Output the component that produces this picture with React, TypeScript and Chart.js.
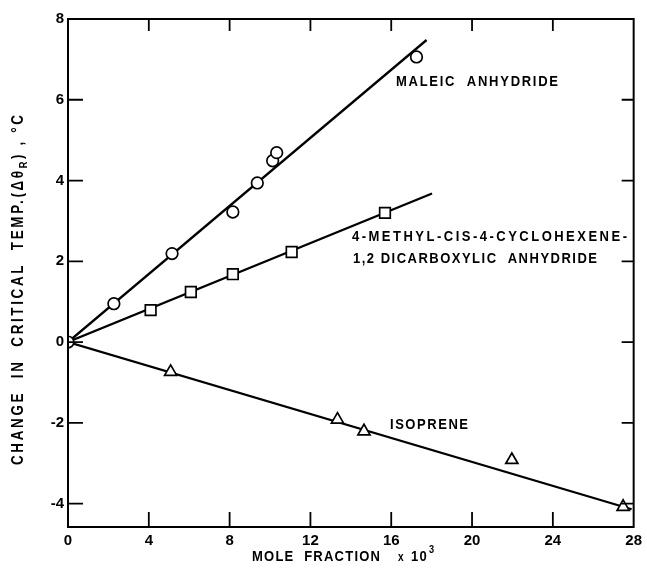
import { useEffect, useRef } from "react";
import { Chart, registerables } from "chart.js";

Chart.register(...registerables);

// ---- data ----
const maleicX = [0, 2.27, 5.15, 8.16, 9.37, 10.13, 10.33, 17.25];
const maleicY = [0, 0.95, 2.19, 3.22, 3.94, 4.49, 4.69, 7.06];
const methylX = [4.09, 6.08, 8.16, 11.07, 15.69];
const methylY = [0.79, 1.24, 1.68, 2.23, 3.2];
const isopreneX = [5.08, 13.34, 14.65, 21.97, 27.48];
const isopreneY = [-0.74, -1.92, -2.21, -2.92, -4.08];

// fitted straight lines (end points)
const maleicFitX = [0, 17.75];
const maleicFitY = [0, 7.48];
const methylFitX = [0, 18.02];
const methylFitY = [0, 3.68];
const isopreneFitX = [0, 27.9];
const isopreneFitY = [0, -4.14];

const xTicks = [0, 4, 8, 12, 16, 20, 24, 28];
const yTicks = [-4, -2, 0, 2, 4, 6, 8];

const labelMaleic = "MALEIC  ANHYDRIDE";
const labelMethyl1 = "4-METHYL-CIS-4-CYCLOHEXENE-";
const labelMethyl2 = "1,2 DICARBOXYLIC  ANHYDRIDE";
const labelIsoprene = "ISOPRENE";
const xTitle = "MOLE  FRACTION";
const yTitleA = "CHANGE  IN  CRITICAL  TEMP.(Δθ";
const yTitleSub = "R";
const yTitleB = ") , °C";

const FONT = '"Liberation Sans", Arial, sans-serif';
const SQ = 0.84; // horizontal squeeze to mimic lettering-guide text

const pts = (xs: number[], ys: number[]) => xs.map((x, i) => ({ x, y: ys[i] }));

function condensed(ctx: CanvasRenderingContext2D, text: string, x: number, y: number, width: number, size: number) {
  ctx.save();
  ctx.font = `bold ${size}px ${FONT}`;
  (ctx as any).letterSpacing = "0px";
  const w = ctx.measureText(text).width;
  const n = Array.from(text).length;
  const ls = n > 1 ? (width / SQ - w) / (n - 1) : 0;
  ctx.translate(x, y);
  ctx.scale(SQ, 1);
  (ctx as any).letterSpacing = ls + "px";
  ctx.textAlign = "left";
  ctx.fillText(text, 0, 0);
  ctx.restore();
}

function plain(ctx: CanvasRenderingContext2D, text: string, x: number, y: number, size: number, ls = 0) {
  ctx.save();
  ctx.font = `bold ${size}px ${FONT}`;
  ctx.translate(x, y);
  ctx.scale(SQ, 1);
  (ctx as any).letterSpacing = ls + "px";
  ctx.textAlign = "left";
  ctx.fillText(text, 0, 0);
  ctx.restore();
}

const framePlugin = {
  id: "frame",
  afterDraw(chart: any) {
    const { ctx, chartArea: a, scales } = chart;
    const xs = scales.x;
    const ys = scales.y;
    ctx.save();
    ctx.strokeStyle = "#000";
    ctx.fillStyle = "#000";
    ctx.lineWidth = 2;
    ctx.strokeRect(a.left, a.top, a.right - a.left, a.bottom - a.top);
    ctx.lineWidth = 1.8;
    ctx.beginPath();
    for (const v of yTicks) {
      const p = ys.getPixelForValue(v);
      ctx.moveTo(a.left, p);
      ctx.lineTo(a.left + 15, p);
      ctx.moveTo(a.right, p);
      ctx.lineTo(a.right - 12, p);
    }
    for (const v of xTicks) {
      if (v === 0 || v === 28) continue;
      const p = xs.getPixelForValue(v);
      ctx.moveTo(p, a.top);
      ctx.lineTo(p, a.top + 12);
      ctx.moveTo(p, a.bottom);
      ctx.lineTo(p, a.bottom - 15);
    }
    ctx.stroke();

    // annotations
    ctx.textBaseline = "middle";
    condensed(ctx, labelMaleic, 396, 82, 162, 15.5);
    condensed(ctx, labelMethyl1, 352, 237, 275, 15.5);
    condensed(ctx, labelMethyl2, 353, 259, 244, 15.5);
    condensed(ctx, labelIsoprene, 390, 425, 78, 15.5);

    // x title
    ctx.textBaseline = "alphabetic";
    condensed(ctx, xTitle, 252, 561, 128, 15.5);
    plain(ctx, "x", 398, 561, 12);
    plain(ctx, "10", 411, 561, 15.5, 1.5);
    plain(ctx, "3", 429, 553, 11);

    // y title (rotated)
    ctx.translate(23, 290);
    ctx.rotate(-Math.PI / 2);
    ctx.scale(SQ, 1);
    ctx.textAlign = "left";
    const big = `bold 16px ${FONT}`;
    const small = `bold 11px ${FONT}`;
    (ctx as any).letterSpacing = "0px";
    ctx.font = big;
    const wA = ctx.measureText(yTitleA).width;
    const wB = ctx.measureText(yTitleB).width;
    ctx.font = small;
    const wR = ctx.measureText(yTitleSub).width;
    const nTot = Array.from(yTitleA + yTitleSub + yTitleB).length;
    const L = 350 / SQ;
    const ls = (L - wA - wB - wR) / (nTot - 1);
    (ctx as any).letterSpacing = ls + "px";
    let cx = -L / 2;
    ctx.font = big;
    ctx.fillText(yTitleA, cx, 0);
    cx += wA + Array.from(yTitleA).length * ls;
    ctx.font = small;
    ctx.fillText(yTitleSub, cx, 4);
    cx += wR + ls;
    ctx.font = big;
    ctx.fillText(yTitleB, cx, 0);
    ctx.restore();
  },
};

export default function App() {
  const ref = useRef<HTMLCanvasElement>(null);
  useEffect(() => {
    if (!ref.current) return;
    const pointStyleCommon = {
      backgroundColor: "#fff",
      borderColor: "#000",
      borderWidth: 1.7,
      showLine: false,
      order: 1,
    };
    const lineCommon = {
      borderColor: "#000",
      borderWidth: 2.3,
      pointRadius: 0,
      showLine: true,
      fill: false,
      order: 2,
    };
    const tickFont = { family: FONT, size: 15, weight: "bold" as const };
    const chart = new Chart(ref.current, {
      type: "scatter",
      data: {
        datasets: [
          { label: "Maleic fit", data: pts(maleicFitX, maleicFitY), ...lineCommon } as any,
          { label: "Methyl fit", data: pts(methylFitX, methylFitY), ...lineCommon } as any,
          { label: "Isoprene fit", data: pts(isopreneFitX, isopreneFitY), ...lineCommon } as any,
          { label: "Maleic anhydride", data: pts(maleicX, maleicY), pointStyle: "circle", pointRadius: 5.8, ...pointStyleCommon } as any,
          { label: "4-Methyl-cis-4-cyclohexene-1,2 dicarboxylic anhydride", data: pts(methylX, methylY), pointStyle: "rect", pointRadius: 7.5, ...pointStyleCommon } as any,
          { label: "Isoprene", data: pts(isopreneX, isopreneY), pointStyle: "triangle", pointRadius: 7, ...pointStyleCommon } as any,
        ],
      },
      options: {
        animation: false,
        responsive: false,
        layout: { padding: { top: 19, right: 11, left: 0, bottom: 0 } },
        plugins: { legend: { display: false }, tooltip: { enabled: false } },
        scales: {
          x: {
            type: "linear",
            min: 0,
            max: 28,
            afterBuildTicks: (s: any) => {
              s.ticks = xTicks.map((v) => ({ value: v }));
            },
            afterFit: (s: any) => {
              s.height = 43;
            },
            grid: { display: false, drawTicks: false },
            border: { display: false },
            ticks: { padding: 5, color: "#000", font: tickFont, maxRotation: 0 },
          },
          y: {
            type: "linear",
            min: -4.58,
            max: 8,
            afterBuildTicks: (s: any) => {
              s.ticks = yTicks.map((v) => ({ value: v }));
            },
            afterFit: (s: any) => {
              s.width = 68;
            },
            grid: { display: false, drawTicks: false },
            border: { display: false },
            ticks: { padding: 4, color: "#000", font: tickFont },
          },
        },
      },
      plugins: [framePlugin],
    });
    return () => chart.destroy();
  }, []);
  return (
    <div style={{ position: "absolute", left: 0, top: 0, width: 647, height: 570, background: "#fff" }}>
      <canvas ref={ref} width={647} height={570} style={{ width: 647, height: 570, display: "block" }} />
    </div>
  );
}
